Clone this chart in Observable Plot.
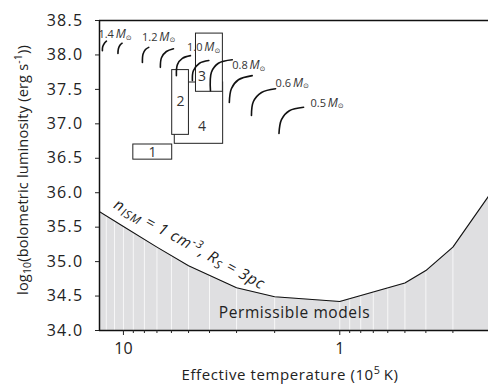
<!DOCTYPE html>
<html><head><meta charset="utf-8">
<script src="https://cdn.jsdelivr.net/npm/d3@7"></script>
<script src="https://cdn.jsdelivr.net/npm/@observablehq/plot@0.6"></script>
<style>body{margin:0;background:#fff;} svg{display:block}</style>
</head><body><div id="chart"></div>
<script>
// Boundary curve (n_ISM = 1 cm^-3, R_S = 3 pc)
const boundaryT = [13, 10, 7, 5, 3, 2, 1, 0.5, 0.4, 0.3, 0.2];
const boundaryL = [35.73, 35.51, 35.21, 34.94, 34.62, 34.49, 34.42, 34.69, 34.87, 35.21, 36.0];

// Evolutionary tracks (10^5 K, log L)
const trackMass = [1.4, 1.3, 1.2, 1.1, 1.0, 0.9, 0.8, 0.7, 0.6, 0.5];
const tracksT = [
  [11.98, 12.24, 12.47, 12.51],
  [10.14, 10.38, 10.55, 10.60],
  [7.64, 7.91, 8.12, 8.17],
  [5.87, 6.33, 6.67, 6.75],
  [4.90, 5.34, 5.63, 5.69],
  [4.03, 4.45, 4.75, 4.80],
  [3.14, 3.64, 3.92, 3.96],
  [2.54, 2.94, 3.17, 3.24],
  [1.98, 2.30, 2.51, 2.56],
  [1.47, 1.71, 1.86, 1.91]
];
const tracksL = [
  [38.20, 38.17, 38.12, 38.06],
  [38.17, 38.14, 38.09, 38.02],
  [38.11, 38.08, 38.01, 37.89],
  [38.09, 38.05, 37.96, 37.82],
  [37.99, 37.95, 37.86, 37.70],
  [37.92, 37.88, 37.77, 37.63],
  [37.93, 37.88, 37.75, 37.48],
  [37.70, 37.64, 37.51, 37.31],
  [37.51, 37.455, 37.32, 37.12],
  [37.24, 37.19, 37.06, 36.86]
];

// Mass labels
const massLabel = ["1.4", "1.2", "1.0", "0.8", "0.6", "0.5"];
const massLabelT = [13.05, 8.2, 5.08, 3.14, 1.98, 1.366];
const massLabelL = [38.30, 38.26, 38.11, 37.85, 37.59, 37.30];

// Observational boxes (drawn in this order)
const boxName = ["4", "1", "2", "3"];
const boxT1 = [5.79, 9.0, 5.95, 4.62];
const boxT2 = [3.46, 5.95, 4.98, 3.47];
const boxL1 = [36.71, 36.48, 36.84, 37.465];
const boxL2 = [37.60, 36.70, 37.78, 38.31];
const boxLabelT = [4.33, 7.34, 5.45, 4.33];
const boxLabelL = [36.96, 36.58, 37.32, 37.69];

// Axes
const yTicks = [34.0, 34.5, 35.0, 35.5, 36.0, 36.5, 37.0, 37.5, 38.0, 38.5];
const xMajorTicks = [10, 1];
const xMinorTicks = [9, 8, 7, 6, 5, 4, 3, 2, 0.9, 0.8, 0.7, 0.6, 0.5, 0.4, 0.3];
const gridT = [12, 11, 10, 9, 8, 7, 6, 5, 4, 3, 2, 1, 0.9, 0.8, 0.7, 0.6, 0.5, 0.4, 0.3];

const boundary = boundaryT.map((t, i) => ({t, L: boundaryL[i]}));
const tracks = tracksT.flatMap((ts, i) => ts.map((t, j) => ({m: trackMass[i], t, L: tracksL[i][j]})));
const massLabels = massLabel.map((s, i) => ({s, t: massLabelT[i], L: massLabelL[i]}));
const boxes = boxName.map((n, i) => ({n, x1: boxT1[i], x2: boxT2[i], y1: boxL1[i], y2: boxL2[i], lt: boxLabelT[i], lL: boxLabelL[i]}));

const font = "'Open Sans', 'DejaVu Sans', sans-serif";

const plot = Plot.plot({
  width: 488, height: 385,
  marginLeft: 99, marginRight: 0, marginTop: 20, marginBottom: 55,
  style: {fontFamily: font, fontSize: "15px", color: "#222", background: "white", overflow: "visible"},
  x: {type: "log", domain: [12.9, 0.2054]},
  y: {domain: [34, 38.5]},
  marks: [
    Plot.areaY(boundary, {x: "t", y1: 34, y2: "L", fill: "#dfdfe1", clip: true}),
    Plot.ruleX(gridT, {stroke: "white", strokeOpacity: 0.75, strokeWidth: 1}),
    Plot.line(boundary, {x: "t", y: "L", stroke: "#111", strokeWidth: 1.1, clip: true}),
    Plot.rect(boxes, {x1: "x1", x2: "x2", y1: "y1", y2: "y2", fill: "white", stroke: "#222", strokeWidth: 1}),
    Plot.text(boxes, {x: "lt", y: "lL", text: "n", fontSize: 14, fill: "#333"}),
    Plot.line(tracks, {x: "t", y: "L", z: "m", curve: "catmull-rom", stroke: "#111", strokeWidth: 1.6}),
    Plot.text(massLabels, {x: "t", y: "L", text: "s", textAnchor: "start", fontSize: 11, fill: "#333"}),
    Plot.text(["CURVELABEL"], {x: () => 4.95, y: () => 35.25, text: d => d, rotate: 29, fontSize: 15.5, fill: "#222"}),
    Plot.text(["Permissible models"], {x: () => 1.62, y: () => 34.25, text: d => d, fontSize: 15.5, fill: "#222"}),
    Plot.ruleY([38.5], {stroke: "#111", strokeWidth: 1.5}),
    Plot.ruleY([34], {stroke: "#111", strokeWidth: 1.5}),
    Plot.ruleX([12.9], {stroke: "#111", strokeWidth: 1.5}),
    Plot.axisY(yTicks, {anchor: "left", tickSize: 4, tickPadding: 12, tickFormat: d => d.toFixed(1), label: null, fontSize: 16}),
    Plot.axisX(xMajorTicks, {anchor: "bottom", tickSize: 5, tickPadding: 7, tickFormat: d => String(d), label: null, fontSize: 16}),
    Plot.axisX(xMinorTicks, {anchor: "bottom", tickSize: 3, tickFormat: () => "", label: null})
  ]
});
document.getElementById("chart").appendChild(plot);

const svg = d3.select(plot);
// Wider tracking for y tick labels
svg.selectAll("text").filter(function() { return /^3\d\.\d$/.test(this.textContent); })
  .attr("letter-spacing", "1.3px");
// Mass labels: add italic M and sun symbol
svg.selectAll("text").filter(function() { return /^[01]\.\d$/.test(this.textContent); }).each(function() {
  const t = d3.select(this);
  t.append("tspan").text("\u2009");
  t.append("tspan").attr("font-style", "italic").attr("font-size", 12).text("M");
  t.append("tspan").attr("font-size", 7).attr("dy", "0.25em").text("\u2299");
});
// Curve label
svg.selectAll("text").filter(function() { return this.textContent === "CURVELABEL"; }).each(function() {
  const t = d3.select(this).text("").attr("font-style", "italic").attr("letter-spacing", "0.8px");
  t.append("tspan").text("n");
  t.append("tspan").attr("font-size", "0.75em").attr("baseline-shift", "-0.3em").text("ISM");
  t.append("tspan").text(" = 1 cm");
  t.append("tspan").attr("font-size", "0.72em").attr("baseline-shift", "0.5em").text("-3");
  t.append("tspan").text(", R");
  t.append("tspan").attr("font-size", "0.75em").attr("baseline-shift", "-0.3em").text("S");
  t.append("tspan").text(" = 3pc");
});
svg.selectAll("text").filter(function() { return this.textContent === "Permissible models"; })
  .attr("letter-spacing", "0.6px");
// Axis titles
const yl = svg.append("text").attr("transform", "translate(28,170) rotate(-90)")
  .attr("text-anchor", "middle").attr("font-size", 14.5).attr("letter-spacing", "0.2px").attr("fill", "#222");
yl.append("tspan").text("log");
yl.append("tspan").attr("font-size", "0.72em").attr("baseline-shift", "-0.3em").text("10");
yl.append("tspan").text("(bolometric luminosity (erg s");
yl.append("tspan").attr("font-size", "0.72em").attr("baseline-shift", "0.55em").text("-1");
yl.append("tspan").text("))");
const xl = svg.append("text").attr("x", 290).attr("y", 380)
  .attr("text-anchor", "middle").attr("font-size", 15).attr("letter-spacing", "0.6px").attr("fill", "#222");
xl.append("tspan").text("Effective temperature (10");
xl.append("tspan").attr("font-size", "0.72em").attr("baseline-shift", "0.55em").text("5");
xl.append("tspan").text("\u2009K)");
</script>
</body></html>
